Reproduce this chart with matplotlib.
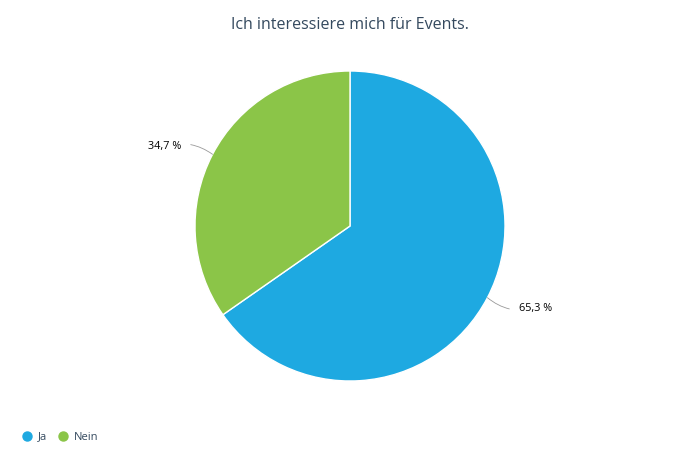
import numpy as np
import matplotlib.pyplot as plt
from matplotlib.lines import Line2D

labels = ["Ja", "Nein"]
values = [65.3, 34.7]
colors = ["#1ea9e1", "#8bc548"]
title = "Ich interessiere mich für Events."

plt.rcParams['font.family'] = ['Open Sans', 'DejaVu Sans']

fig = plt.figure(figsize=(7, 4.67), dpi=100)
# pie centre at (350, 226) px, radius 155 px
ax = fig.add_axes([195 / 700, (467 - 226 - 155) / 467, 310 / 700, 310 / 467])
wedges, _ = ax.pie(values, colors=colors, startangle=90, counterclock=False,
                   wedgeprops=dict(edgecolor="white", linewidth=1))
ax.set_xlim(-1, 1)
ax.set_ylim(-1, 1)
ax.set_aspect("equal")

for w, v in zip(wedges, values):
    ang = np.deg2rad((w.theta1 + w.theta2) / 2)
    x, y = np.cos(ang), np.sin(ang)
    sx = 1 if x > 0 else -1
    tx = sx * 1.09
    ty = y * 1.13 - 0.01
    txt = f"{v:.1f} %".replace(".", ",")
    ax.annotate(txt, xy=(x, y), xytext=(tx, ty), fontsize=7.8, color="black",
                ha="left" if sx > 0 else "right", va="center",
                arrowprops=dict(arrowstyle="-", color="#999999", lw=0.6,
                                shrinkA=5, shrinkB=0,
                                connectionstyle="arc3,rad=%.2f" % (0.25 * sx * np.sign(y))))

fig.text(0.5, 1 - 25 / 467, title, ha="center", va="center", fontsize=11.5, color="#34495e")

handles = [Line2D([], [], marker="o", linestyle="", markersize=6.5, color=c) for c in colors]
fig.legend(handles, labels, loc="lower left", bbox_to_anchor=(11 / 700, 20 / 467),
           ncol=2, frameon=False, fontsize=8, handletextpad=0.0, columnspacing=0.45,
           labelcolor="#34495e", borderaxespad=0)

fig.savefig("out.png", dpi=100)
